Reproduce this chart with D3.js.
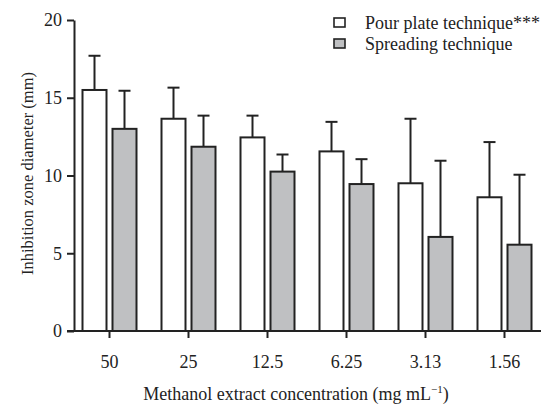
<!DOCTYPE html>
<html>
<head>
<meta charset="utf-8">
<script src="https://cdn.jsdelivr.net/npm/d3@7"></script>
<style>
  body { margin: 0; background: #fff; }
</style>
</head>
<body>
<div id="chart"></div>
<script>
const svgWidth = 545;
const svgHeight = 404;

// chart data
const concentrations = ["50", "25", "12.5", "6.25", "3.13", "1.56"];
const seriesNames = ["Pour plate technique***", "Spreading technique"];
const pourMeans = [15.5, 13.65, 12.45, 11.55, 9.5, 8.6];
const pourErr = [2.2, 2.0, 1.4, 1.9, 4.15, 3.55];
const spreadMeans = [13.0, 11.85, 10.25, 9.45, 6.05, 5.55];
const spreadErr = [2.45, 2.0, 1.1, 1.6, 4.9, 4.5];
const yTicks = [0, 5, 10, 15, 20];

const seriesFill = ["#ffffff", "#bfc0c2"];
const ink = "#222";
const serif = '"Liberation Serif", "Times New Roman", serif';

const svg = d3.select("#chart")
            .append("svg")
            .attr("width", svgWidth)
            .attr("height", svgHeight);

// scales
const x = d3.scaleBand()
            .domain(concentrations)
            .range([70, 544]);

const xInner = d3.scaleBand()
            .domain([0, 1])
            .range([-27, 27])
            .paddingInner(0.2);

const y = d3.scaleLinear()
            .domain([0, 20])
            .range([331, 20]);

const axisX = 74;

// y axis
const yAxis = svg.append("g")
            .attr("transform", `translate(${axisX}, 0)`)
            .call(d3.axisLeft(y).tickValues(yTicks).tickSize(7).tickSizeOuter(0).tickPadding(5));
yAxis.select(".domain").attr("stroke", ink).attr("stroke-width", 2);
yAxis.selectAll(".tick line").attr("stroke", ink).attr("stroke-width", 2);
yAxis.selectAll(".tick text")
     .style("font-family", serif)
     .style("font-size", "18px")
     .attr("fill", ink);

// x axis
const xAxis = svg.append("g")
            .attr("transform", `translate(0, ${y(0)})`)
            .call(d3.axisBottom(x).tickSize(7).tickSizeOuter(0).tickPadding(17));
xAxis.select(".domain").remove();
xAxis.selectAll(".tick line").attr("stroke", ink).attr("stroke-width", 2);
xAxis.selectAll(".tick text")
     .style("font-family", serif)
     .style("font-size", "18px")
     .attr("fill", ink);
svg.append("line")
   .attr("x1", axisX - 7).attr("x2", 541)
   .attr("y1", y(0)).attr("y2", y(0))
   .attr("stroke", ink).attr("stroke-width", 2);

// bars and error bars
const rows = concentrations.map((c, i) => ({
    c: c,
    vals: [
        { s: 0, mean: pourMeans[i], err: pourErr[i] },
        { s: 1, mean: spreadMeans[i], err: spreadErr[i] }
    ]
}));

const groups = svg.selectAll(".grp")
            .data(rows)
            .enter()
            .append("g")
            .attr("transform", d => `translate(${x(d.c) + x.bandwidth() / 2}, 0)`);

const cells = groups.selectAll(".cell")
            .data(d => d.vals)
            .enter()
            .append("g");

cells.append("line")
     .attr("x1", d => xInner(d.s) + xInner.bandwidth() / 2)
     .attr("x2", d => xInner(d.s) + xInner.bandwidth() / 2)
     .attr("y1", d => y(d.mean))
     .attr("y2", d => y(d.mean + d.err))
     .attr("stroke", ink).attr("stroke-width", 2);

cells.append("line")
     .attr("x1", d => xInner(d.s) + xInner.bandwidth() / 2 - 6)
     .attr("x2", d => xInner(d.s) + xInner.bandwidth() / 2 + 6)
     .attr("y1", d => y(d.mean + d.err))
     .attr("y2", d => y(d.mean + d.err))
     .attr("stroke", ink).attr("stroke-width", 2);

cells.append("rect")
     .attr("x", d => xInner(d.s))
     .attr("width", xInner.bandwidth())
     .attr("y", d => y(d.mean))
     .attr("height", d => y(0) - y(d.mean))
     .attr("fill", d => seriesFill[d.s])
     .attr("stroke", ink).attr("stroke-width", 2);

// legend
const legend = svg.append("g")
            .attr("transform", "translate(334, 18)");
seriesNames.forEach((name, i) => {
    legend.append("rect")
          .attr("x", 0).attr("y", i * 21)
          .attr("width", 11).attr("height", 9)
          .attr("fill", seriesFill[i])
          .attr("stroke", ink).attr("stroke-width", 1.6);
    legend.append("text")
          .attr("x", 31).attr("y", i * 21 + 5)
          .attr("dy", "0.35em")
          .attr("fill", ink)
          .style("font-family", serif)
          .style("font-size", "18px")
          .text(name);
});

// axis titles
svg.append("text")
   .attr("transform", `translate(33, ${y(10) - 2}) rotate(-90)`)
   .attr("text-anchor", "middle")
   .attr("fill", ink)
   .style("font-family", serif)
   .style("font-size", "16.5px")
   .text("Inhibition zone diameter (mm)");

const xTitle = svg.append("text")
   .attr("x", 296)
   .attr("y", 400)
   .attr("text-anchor", "middle")
   .attr("fill", ink)
   .style("font-family", serif)
   .style("font-size", "18px");
xTitle.append("tspan").text("Methanol extract concentration (mg mL");
xTitle.append("tspan").attr("dy", -7).style("font-size", "11px").text("\u22121");
xTitle.append("tspan").attr("dy", 7).text(")");
</script>
</body>
</html>
